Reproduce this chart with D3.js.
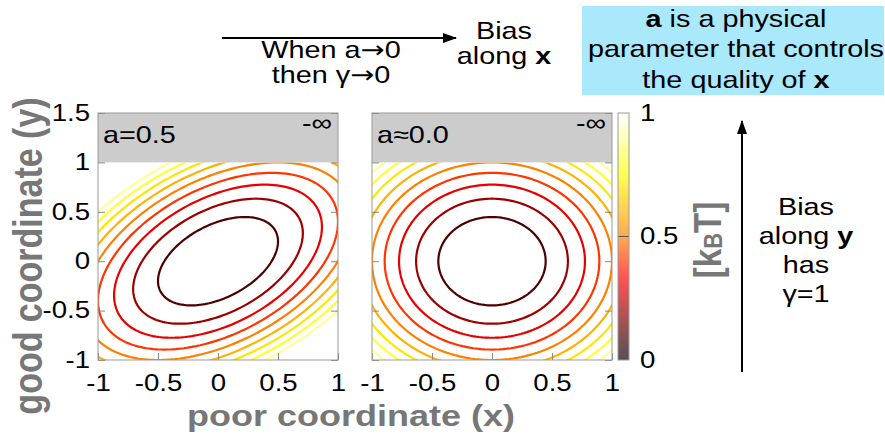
<!DOCTYPE html>
<html>
<head>
<meta charset="utf-8">
<script src="https://cdn.jsdelivr.net/npm/d3@7"></script>
<style>
  body { margin: 0; background: #fff; }
  text { font-family: "Liberation Sans", Arial, Helvetica, sans-serif; }
</style>
</head>
<body>
<svg id="chart" width="885" height="441"></svg>
<script>
// two panels, same free energy with coupling a between x and y
const panelNames = ["a=0.5", "a\u22480.0"];
const couplings = [0.5, 0.0];
// contour levels in kT
const levels = [0.1, 0.2, 0.3, 0.4, 0.5, 0.6, 0.7, 0.8, 0.9];
const xTicks = [-1, -0.5, 0, 0.5, 1];
const yTicks = [-1, -0.5, 0, 0.5, 1, 1.5];
const cbTicks = [0, 0.5, 1];
// colour palette (black - red - orange - yellow - white)
const palStops = [0, 0.33, 0.5, 0.75, 1];
const palColors = ["#000000", "#ff0000", "#ff8000", "#ffff00", "#ffffff"];

const svg = d3.select("#chart");
const sx = 1.2;          // lettering in the original is stretched sideways
const panelLeft = [98, 372];
const panelW = 240;
const plain = d => String(d);   // hyphen minus like the original

const y = d3.scaleLinear().domain([-1, 1.5]).range([360, 113]);
const pal = d3.scaleLinear().domain(palStops).range(palColors);

function stretch(sel) {
  sel.each(function() {
    const t = d3.select(this);
    const x0 = +t.attr("x") || 0, y0 = +t.attr("y") || 0;
    t.attr("x", null).attr("y", null)
     .attr("transform", `translate(${x0},${y0}) scale(${sx},1)`);
  });
}

// parts: [text, bold, font]
function label(x0, y0, lines, opts) {
  opts = opts || {};
  const t = svg.append("text")
    .attr("transform", `translate(${x0},${y0}) scale(${sx},1)`)
    .attr("text-anchor", opts.anchor || "middle")
    .attr("font-size", opts.size || 24)
    .attr("fill", opts.fill || "#000");
  lines.forEach((parts, i) => {
    parts.forEach((p, j) => {
      const s = t.append("tspan").text(p[0]);
      if (j === 0) s.attr("x", 0).attr("y", i * (opts.lh || 29));
      if (p[1]) s.attr("font-weight", "bold");
      if (p[2]) s.attr("font-family", p[2]);
    });
  });
  return t;
}

const defs = svg.append("defs");
defs.append("marker")
  .attr("id", "head").attr("markerUnits", "userSpaceOnUse")
  .attr("markerWidth", 14).attr("markerHeight", 10)
  .attr("refX", 13).attr("refY", 5).attr("orient", "auto")
  .append("path").attr("d", "M0,0 L14,5 L0,10 Z").attr("fill", "#000");

panelLeft.forEach((x0, i) => {
  const x = d3.scaleLinear().domain([-1, 1]).range([x0, x0 + panelW]);
  const a = couplings[i];

  defs.append("clipPath").attr("id", "clip" + i)
    .append("rect")
    .attr("x", x(-1)).attr("y", y(1))
    .attr("width", x(1) - x(-1)).attr("height", y(-1) - y(1));

  // iso-lines of F = ((x - a y)^2 + y^2) / 2
  const line = d3.line()
    .x(d => x(d[0])).y(d => y(d[1]))
    .curve(d3.curveLinearClosed);
  const ring = L => {
    const R = Math.sqrt(2 * L);
    return d3.range(0, 360, 2).map(deg => {
      const t = deg * Math.PI / 180;
      const u = R * Math.cos(t), v = R * Math.sin(t);
      return [u + a * v, v];
    });
  };

  svg.append("g").attr("clip-path", `url(#clip${i})`)
    .selectAll("path").data(levels).join("path")
    .attr("d", L => line(ring(L)))
    .attr("fill", "none")
    .attr("stroke", L => pal(L))
    .attr("stroke-width", 2.2);

  // grey strip above y = 1
  svg.append("rect")
    .attr("x", x(-1)).attr("y", y(1.5))
    .attr("width", x(1) - x(-1)).attr("height", y(1) - y(1.5))
    .attr("fill", "#cccccc");

  const ax = svg.append("g").attr("class", "ax");
  ax.append("g").attr("transform", `translate(${x(-1)},0)`)
    .call(d3.axisLeft(y).tickValues(yTicks).tickSize(-7).tickPadding(8)
      .tickFormat(i === 0 ? plain : ""));
  ax.append("g").attr("transform", `translate(${x(1)},0)`)
    .call(d3.axisRight(y).tickValues(yTicks).tickSize(-7).tickFormat(""));
  ax.append("g").attr("transform", `translate(0,${y(-1)})`)
    .call(d3.axisBottom(x).tickValues(xTicks).tickSize(-7).tickPadding(15)
      .tickFormat(plain));
  ax.selectAll(".domain").remove();
  ax.selectAll("line").attr("stroke", "#888");
  ax.selectAll("text").attr("font-size", 23).attr("fill", "#000")
    .attr("font-family", null).call(stretch);

  svg.append("rect")
    .attr("x", x(-1)).attr("y", y(1.5))
    .attr("width", x(1) - x(-1)).attr("height", y(-1) - y(1.5))
    .attr("fill", "none").attr("stroke", "#999");

  label(x0 + 5, 143, [[[panelNames[i]]]], { anchor: "start", size: 24 });
  label(x0 + panelW - 6, 131, [[["-\u221e"]]], { anchor: "end", size: 24 });
});

// colour box
const cb = d3.scaleLinear().domain([0, 1]).range([360, 113]);
const grad = defs.append("linearGradient").attr("id", "cbgrad")
  .attr("x1", 0).attr("y1", 1).attr("x2", 0).attr("y2", 0);
grad.selectAll("stop").data(palStops).join("stop")
  .attr("offset", d => d)
  .attr("stop-color", d => pal(d));
svg.append("rect").attr("x", 618).attr("y", cb(1))
  .attr("width", 11).attr("height", cb(0) - cb(1))
  .attr("fill", "url(#cbgrad)").attr("fill-opacity", 0.68);
svg.append("line").attr("x1", 618).attr("x2", 629)
  .attr("y1", cb(0.5)).attr("y2", cb(0.5)).attr("stroke", "#555");
svg.append("rect").attr("x", 618).attr("y", cb(1))
  .attr("width", 11).attr("height", cb(0) - cb(1))
  .attr("fill", "none").attr("stroke", "#999");
const cbAx = svg.append("g").attr("transform", "translate(629,0)")
  .call(d3.axisRight(cb).tickValues(cbTicks).tickSize(0).tickPadding(11)
    .tickFormat(plain));
cbAx.select(".domain").remove();
cbAx.selectAll("text").attr("font-size", 23).attr("font-family", null).call(stretch);

// axis titles
svg.append("text")
  .attr("transform", `translate(${351},${426}) scale(${sx},1)`)
  .attr("text-anchor", "middle").attr("font-size", 30)
  .attr("font-weight", "bold").attr("fill", "#777")
  .text("poor coordinate (x)");
svg.append("text")
  .attr("transform", `translate(${42},${256}) scale(${sx},1) rotate(-90)`)
  .attr("text-anchor", "middle").attr("font-size", 34)
  .attr("font-weight", "bold").attr("fill", "#777")
  .text("good coordinate (y)");
const kt = svg.append("text")
  .attr("transform", `translate(${721},${240}) scale(${sx},1) rotate(-90)`)
  .attr("text-anchor", "middle").attr("font-size", 33)
  .attr("font-weight", "bold").attr("fill", "#777");
kt.append("tspan").text("[k");
kt.append("tspan").text("B").attr("font-size", 22).attr("dy", 1);
kt.append("tspan").text("T]").attr("dy", -1);

// arrows and notes
svg.append("line").attr("x1", 222).attr("y1", 38).attr("x2", 456).attr("y2", 38)
  .attr("stroke", "#000").attr("stroke-width", 2).attr("marker-end", "url(#head)");
svg.append("line").attr("x1", 742).attr("y1", 372).attr("x2", 742).attr("y2", 121)
  .attr("stroke", "#000").attr("stroke-width", 2).attr("marker-end", "url(#head)");

const arrowFont = "DejaVu Sans";
label(331, 58, [[["When a"], ["\u2192", false, arrowFont], ["0"]],
  [["then \u03b3"], ["\u2192", false, arrowFont], ["0"]]], { lh: 25 });
label(504, 39, [[["Bias"]], [["along "], ["x", true]]], { lh: 25 });

svg.append("rect").attr("x", 582).attr("y", 6).attr("width", 302).attr("height", 89)
  .attr("fill", "#aae8fb");
label(736, 27, [[["a", true], [" is a physical"]], [["parameter that controls"]],
  [["the quality of "], ["x", true]]], { lh: 30.5 });

label(806, 215, [[["Bias"]], [["along "], ["y", true]], [["has"]], [["\u03b3=1"]]],
  { lh: 29 });
</script>
</body>
</html>
